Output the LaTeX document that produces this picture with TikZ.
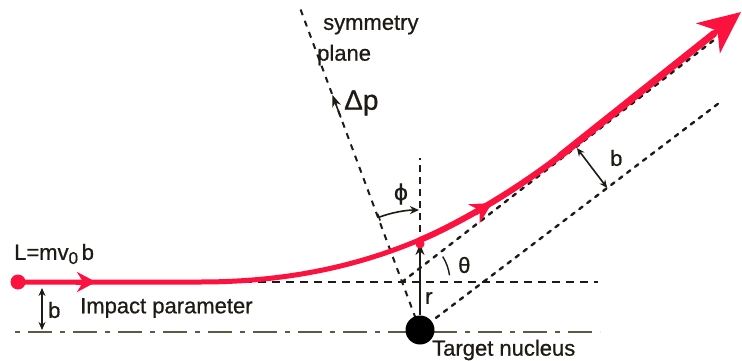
\documentclass[tikz,border=0pt]{standalone}
\usepackage{fontspec}
\setmainfont{Liberation Sans}
\newfontfamily\medfont{Liberation Sans}[FakeBold=0.7]
\newfontfamily\symfont{DejaVu Sans}[FakeBold=0.5]
\usetikzlibrary{arrows.meta,calc}
\definecolor{traj}{RGB}{252,18,62}
\definecolor{dk}{RGB}{30,27,20}
\definecolor{axc}{RGB}{95,88,70}
\begin{document}
\begin{tikzpicture}[x=1pt,y=1pt,
  dsh/.style={draw=dk,line width=2pt,dash pattern=on 8pt off 6pt},
  dotl/.style={draw=dk,line width=2.4pt,dash pattern=on 4pt off 6pt,line cap=round},
  axisl/.style={draw=axc,line width=2.8pt,dash pattern=on 5pt off 8pt on 24pt off 8pt},
  lab/.style={font=\fontsize{22}{24}\selectfont\medfont,text=dk,inner sep=0pt},
  trajl/.style={draw=traj,line width=5pt},
  blk/.style={draw=dk,line width=1.6pt}]
\useasboundingbox (0,0) rectangle (742,360);
% key points
\coordinate (N) at (420,30);
\coordinate (S) at (300,352);
\coordinate (P) at (420,116);
\coordinate (Vt) at (420,202);
\coordinate (A) at (402,78);
\coordinate (Aend) at ($(A)+(37.8:400)$);
\coordinate (B1) at ($(N)+(37.2:20)$);
\coordinate (B2) at ($(N)+(37.2:380)$);
\coordinate (bb1) at ($(N)+(37.2:235)$);
\coordinate (bb2) at ($(bb1)+(127.2:50)$);
\coordinate (ib1) at (42,30);
\coordinate (ib2) at (42,72);
\coordinate (ax1) at (15,28);
\coordinate (ax2) at (600,28);
\coordinate (h1) at (20,78);
\coordinate (h2) at (598,78);
\coordinate (T0) at (18,78);
\coordinate (T1) at (200,78);
\coordinate (T2) at (560,204);
\coordinate (T3) at (741,348);
\coordinate (T3b) at ($(T2)!0.85!(T3)$);
\coordinate (m1a) at (76,78);
\coordinate (m1b) at (96,78);
\coordinate (m2b) at (492,157);
\coordinate (m2a) at ($(m2b)+(211:20)$);
\coordinate (dpa) at ($(N)!0.66!(S)$);
\coordinate (dpb) at ($(N)!0.73!(S)$);
\coordinate (phiS) at ($(N)+(110.4:120)$);
\coordinate (thS) at ($(A)+(8:48)$);

% axis and dashed guide lines
\draw[axisl] (ax1) -- (ax2);
\draw[dsh] (h1) -- (h2);
\draw[dsh,dash pattern=on 6pt off 6pt] (N) -- (S);
\draw[dsh,dash pattern=on 7pt off 5pt] (P) -- (Vt);
\draw[dotl] (A) -- (Aend);
\draw[dotl] (B1) -- (B2);

% nucleus
\node[circle,fill=black,minimum size=29pt,inner sep=0pt] (nuc) at (N) {};
\node[lab,anchor=west] (tn) at (432,10) {Target nucleus};

% r arrow
\draw[blk,-{Stealth[length=11pt,width=9pt]}] (nuc.north) -- (P);
\node[lab,anchor=west] (rl) at (425,62) {r};

% phi arc
\draw[blk,{Bar[width=7pt]}-{Stealth[length=9pt,width=8pt]}] (phiS) arc[start angle=110.4,end angle=90.5,radius=120];
\node[lab,font=\fontsize{22}{24}\selectfont\symfont] (phil) at (401,166) {ϕ};

% delta p
\draw[blk,-{Stealth[length=12pt,width=9pt]}] (dpa) -- (dpb);
\node[lab,font=\fontsize{28}{30}\selectfont\medfont,anchor=west] (dpl) at (344,257) {Δp};
\node[lab,anchor=west] (sym) at (323,335) {symmetry};
\node[lab,anchor=west] (pla) at (317,305) {plane};

% theta arc
\draw[blk,line width=1.4pt] (thS) arc[start angle=8,end angle=32,radius=48];
\node[lab,anchor=west] (thl) at (458,95) {θ};

% outgoing b
\draw[blk,{Stealth[length=8pt,width=7pt]}-{Stealth[length=8pt,width=7pt]}] (bb1) -- (bb2);
\node[lab,anchor=west] (bo) at (610,202) {b};

% impact parameter b
\draw[blk,{Stealth[length=8pt,width=7pt]}-{Stealth[length=8pt,width=7pt]}] (ib1) -- (ib2);
\node[lab,anchor=west] (bi) at (48,50) {b};
\node[lab,anchor=west] (ip) at (80,52) {Impact parameter};
\node[lab,anchor=west] (L) at (14,106) {L=mv\raisebox{-0.35ex}{\fontsize{17}{17}\selectfont\medfont 0}\,b};

% trajectory (slightly thickening towards the exit)
\fill[traj] (T0) circle (7.5);
\draw[trajl,-{Stealth[length=42pt,width=38pt,inset=12pt]}] (T0) -- (T1) .. controls (340,78) and (450,119) .. (T2) -- (T3);
\draw[traj,line width=6pt,line cap=round] (420,120) .. controls (440,128) and (500,158) .. (T2) -- (T3b);
\draw[traj,line width=7pt,line cap=round] (T2) -- (T3b);
\draw[trajl,-{Stealth[length=19pt,width=20pt]}] (m1a) -- (m1b);
\draw[trajl,-{Stealth[length=21pt,width=22pt]}] (m2a) -- (m2b);
\fill[traj] (P) circle (4.5);
\end{tikzpicture}
\end{document}
